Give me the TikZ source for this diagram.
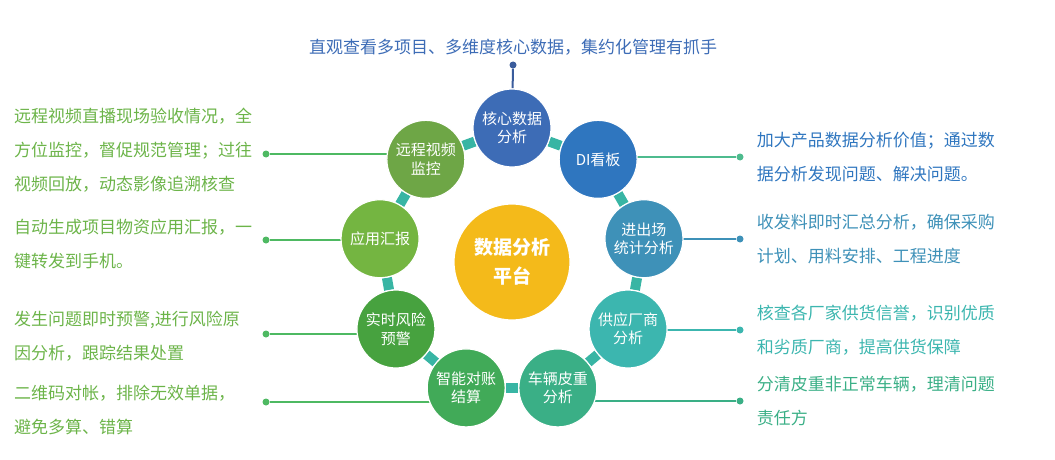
\documentclass[tikz,border=0pt]{standalone}
\usepackage{fontspec}
\setmainfont{Noto Sans CJK SC}
\usepackage{tikz}
\usetikzlibrary{positioning, backgrounds}
\definecolor{CoreBlue}{HTML}{3D6CB6}
\definecolor{DashBlue}{HTML}{2F76BF}
\definecolor{Steel}{HTML}{3E91B8}
\definecolor{Teal}{HTML}{3CB6AF}
\definecolor{Sea}{HTML}{3AAF86}
\definecolor{Green}{HTML}{41AA58}
\definecolor{Grass}{HTML}{47A23F}
\definecolor{Lime}{HTML}{74B541}
\definecolor{Olive}{HTML}{6EA646}
\definecolor{Amber}{HTML}{F4BA1A}
\definecolor{Link}{HTML}{38B5A4}
\definecolor{LeadGreen}{HTML}{4EB962}
\definecolor{LeadTeal}{HTML}{4EBB8E}
\definecolor{TopLine}{HTML}{3A5C9C}
\definecolor{NoteGreen}{HTML}{6CB449}

\begin{document}
\begin{tikzpicture}[
  x=1pt, y=1pt,
  hub/.style={circle, draw=white, line width=1.2pt, minimum size=78pt, inner sep=0pt, align=center, text=white, font=\fontsize{15}{18.5}\selectfont},
  platform/.style={hub, minimum size=116pt, fill=Amber, font=\fontsize{19}{29}\selectfont\bfseries},
  link/.style={draw=Link, line width=10pt},
  lead/.style={line width=2pt},
  dot/.style={circle, inner sep=0pt, minimum size=7pt},
  note/.style={align=left, inner sep=0pt, font=\fontsize{17}{34}\selectfont}
]
\useasboundingbox (0,0) rectangle (1055,459);
\coordinate (ring) at (512,197);

% centre and ring
\node[platform] (hubc) at (ring) {数据分析\\平台};
\node[hub, fill=CoreBlue] (core) at ([shift={(ring)}]90:134) {核心数据\\分析};
\node[hub, fill=DashBlue] (dash) at ([shift={(ring)}]50:134) {DI看板};
\node[hub, fill=Steel] (gate) at ([shift={(ring)}]10:134) {进出场\\统计分析};
\node[hub, fill=Teal] (supply) at ([shift={(ring)}]-30:134) {供应厂商\\分析};
\node[hub, fill=Sea] (tare) at ([shift={(ring)}]-70:134) {车辆皮重\\分析};
\node[hub, fill=Green] (bill) at ([shift={(ring)}]-110:134) {智能对账\\结算};
\node[hub, fill=Grass] (risk) at ([shift={(ring)}]-150:134) {实时风险\\预警};
\node[hub, fill=Lime] (report) at ([shift={(ring)}]170:134) {应用汇报};
\node[hub, fill=Olive] (video) at ([shift={(ring)}]130:134) {远程视频\\监控};

% end dots
\node[dot, fill=TopLine] (dtop) at (513,394) {};
\node[dot, fill=LeadTeal] (ddash) at (740,302) {};
\node[dot, fill=Steel] (dgate) at (740,220) {};
\node[dot, fill=Teal] (dsupply) at (740,129) {};
\node[dot, fill=Sea] (dtare) at (740,58) {};
\node[dot, fill=LeadGreen] (dvideo) at (266,305) {};
\node[dot, fill=LeadGreen] (dreport) at (266,219) {};
\node[dot, fill=LeadGreen] (drisk) at (266,125) {};
\node[dot, fill=LeadGreen] (dbill) at (266,57) {};

\begin{scope}[on background layer]
\draw[link] (core) -- (dash);
\draw[link] (dash) -- (gate);
\draw[link] (gate) -- (supply);
\draw[link] (supply) -- (tare);
\draw[link] (tare) -- (bill);
\draw[link] (bill) -- (risk);
\draw[link] (risk) -- (report);
\draw[link] (report) -- (video);
\draw[link] (video) -- (core);
\draw[lead, draw=TopLine] (dtop) -- (core);
\draw[lead, draw=LeadTeal] (ddash) -- (ddash -| dash.center);
\draw[lead, draw=Steel] (dgate) -- (dgate -| gate.center);
\draw[lead, draw=Teal] (dsupply) -- (dsupply -| supply.center);
\draw[lead, draw=Sea] (dtare) -- (dtare -| tare.center);
\draw[lead, draw=LeadGreen] (dvideo) -- (dvideo -| video.center);
\draw[lead, draw=LeadGreen] (dreport) -- (dreport -| report.center);
\draw[lead, draw=LeadGreen] (drisk) -- (drisk -| risk.center);
\draw[lead, draw=LeadGreen] (dbill) -- (dbill -| bill.center);
\end{scope}

% texts
\node[note, text=CoreBlue] (ttop) at (513,412) {直观查看多项目、多维度核心数据，集约化管理有抓手};
\node[note, text=DashBlue, right=13pt of ddash] (tdash) {加大产品数据分析价值；通过数\\据分析发现问题、解决问题。};
\node[note, text=Steel, right=13pt of dgate] (tgate) {收发料即时汇总分析，确保采购\\计划、用料安排、工程进度};
\node[note, text=Teal, right=13pt of dsupply] (tsupply) {核查各厂家供货信誉，识别优质\\和劣质厂商，提高供货保障};
\node[note, text=Sea, right=13pt of dtare] (ttare) {分清皮重非正常车辆，理清问题\\责任方};
\node[note, text=NoteGreen, anchor=west] (tvideo) at (14,309) {远程视频直播现场验收情况，全\\方位监控，督促规范管理；过往\\视频回放，动态影像追溯核查};
\node[note, text=NoteGreen, anchor=west] (treport) at (14,215) {自动生成项目物资应用汇报，一\\键转发到手机。};
\node[note, text=NoteGreen, anchor=west] (trisk) at (14,123) {发生问题即时预警,进行风险原\\因分析，跟踪结果处置};
\node[note, text=NoteGreen, anchor=west] (tbill) at (14,49) {二维码对帐，排除无效单据，\\避免多算、错算};
\end{tikzpicture}
\end{document}
